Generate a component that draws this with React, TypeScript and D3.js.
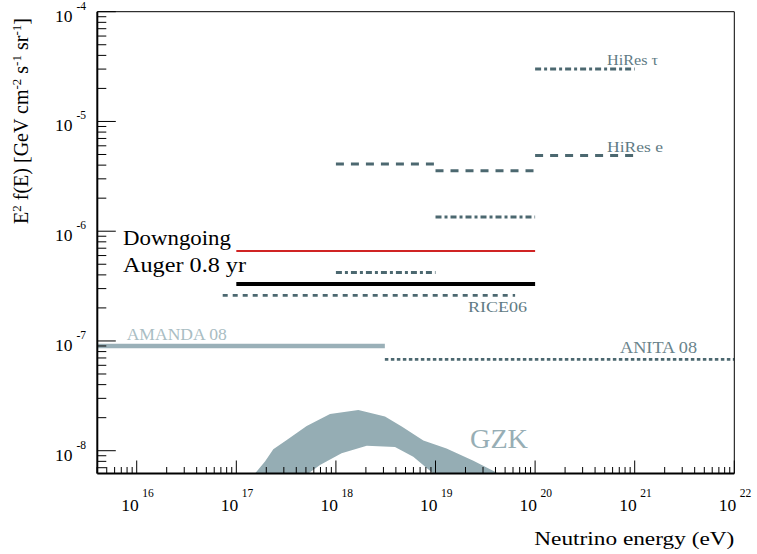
import React from "react";
import * as d3 from "d3";

// ---- data ----
const xDecades = [16, 17, 18, 19, 20, 21, 22];
const yDecades = [-4, -5, -6, -7, -8];

const hiresEEdges = [1e18, 1e19, 1e20, 1e21];
const hiresEValues = [4.1e-6, 3.56e-6, 4.9e-6];
const hiresTauEdges = [1e18, 1e19, 1e20, 1e21];
const hiresTauValues = [4.2e-7, 1.35e-6, 3.0e-5];

const downgoingRange = [1e17, 1e20];
const downgoingValue = 6.6e-7;
const augerRange = [1e17, 1e20];
const augerValue = 3.3e-7;
const riceRange = [7.3e16, 6.3e19];
const riceValue = 2.6e-7;
const amandaRange = [1e15, 3.1e18];
const amandaValue = 9.0e-8;
const anitaRange = [3.1e18, 1e22];
const anitaValue = 6.8e-8;

const gzkUpperE = [1.54e17, 1.94e17, 2.35e17, 3.21e17, 5.09e17, 8.73e17, 1.68e18, 3.11e18, 4.58e18, 7.55e18, 1.29e19, 2.4e19, 4.28e19];
const gzkUpperF = [6.2e-9, 7.96e-9, 1.03e-8, 1.25e-8, 1.68e-8, 2.16e-8, 2.35e-8, 2.05e-8, 1.66e-8, 1.24e-8, 1.05e-8, 8.1e-9, 6.2e-9];
const gzkLowerE = [5.28e17, 6.92e17, 1.14e18, 2.04e18, 3.92e18, 5.98e18, 9.5e18];
const gzkLowerF = [6.2e-9, 7.4e-9, 9.5e-9, 1.11e-8, 1.08e-8, 8.8e-9, 6.2e-9];

// ---- layout ----
const W = 757;
const H = 554;
const L = 97.3;
const R = 734.3;
const T = 11.7;
const B = 473.5;
const FONT = "'Liberation Serif', 'Times New Roman', serif";

const SLATE = "#4c6870";
const LABEL = "#5f7b84";
const LIGHT = "#9ab0b8";

export default function App() {
  const x = d3.scaleLog().domain([4.02e15, 1e22]).range([L, R]);
  const y = d3.scaleLog().domain([6.2e-9, 1e-4]).range([B, T]);
  const line = d3
    .line<[number, number]>()
    .x((d) => x(d[0]))
    .y((d) => y(d[1]));

  const seg = (r: number[], v: number): [number, number][] => [
    [r[0], v],
    [r[1], v],
  ];

  const xTicks: { v: number; major: boolean }[] = [];
  for (let e = 15; e <= 22; e++) {
    for (let k = 1; k <= 9; k++) {
      const v = k * Math.pow(10, e);
      if (v >= 4.0e15 && v <= 1.0001e22) xTicks.push({ v, major: k === 1 });
    }
  }
  const yTicks: { v: number; major: boolean }[] = [];
  for (let e = -9; e <= -4; e++) {
    for (let k = 1; k <= 9; k++) {
      const v = k * Math.pow(10, e);
      if (v >= 6.25e-9 && v <= 1.0001e-4) yTicks.push({ v, major: k === 1 });
    }
  }

  const gzkPts: [number, number][] = [
    ...gzkUpperE.map((e, i) => [e, gzkUpperF[i]] as [number, number]),
    ...gzkLowerE.map((e, i) => [e, gzkLowerF[i]] as [number, number]).reverse(),
  ];

  const stepSegs = (edges: number[], vals: number[]) =>
    vals.map((v, i) => line(seg([edges[i], edges[i + 1]], v)) as string);

  return (
    <svg
      width={W}
      height={H}
      style={{ position: "absolute", left: 0, top: 0, background: "#fff" }}
      fontFamily={FONT}
    >
      <defs>
        <clipPath id="plot">
          <rect x={L} y={T} width={R - L} height={B - T} />
        </clipPath>
      </defs>
      <rect x={0} y={0} width={W} height={H} fill="#fff" />

      <g clipPath="url(#plot)">
        <path d={(line(gzkPts) as string) + "Z"} fill="#95adb4" stroke="none" />
        <path d={line(seg(amandaRange, amandaValue)) as string} stroke={LIGHT} strokeWidth={4.5} fill="none" />
        <path d={line(seg(anitaRange, anitaValue)) as string} stroke={SLATE} strokeWidth={2.8} strokeDasharray="3.5 2.5" fill="none" />
        <path d={line(seg(riceRange, riceValue)) as string} stroke={SLATE} strokeWidth={2.8} strokeDasharray="5 5" fill="none" />
        {stepSegs(hiresEEdges, hiresEValues).map((d, i) => (
          <path key={"he" + i} d={d} stroke={SLATE} strokeWidth={3} strokeDasharray="8 7" fill="none" />
        ))}
        {stepSegs(hiresTauEdges, hiresTauValues).map((d, i) => (
          <path key={"ht" + i} d={d} stroke={SLATE} strokeWidth={3} strokeDasharray="6 3 3 3" fill="none" />
        ))}
        <path d={line(seg(downgoingRange, downgoingValue)) as string} stroke="#d02424" strokeWidth={2} fill="none" />
        <path d={line(seg(augerRange, augerValue)) as string} stroke="#000" strokeWidth={4} fill="none" />
      </g>

      {/* frame */}
      <line x1={L} y1={T} x2={R} y2={T} stroke="#000" strokeWidth={1} />
      <line x1={R} y1={T} x2={R} y2={B} stroke="#000" strokeWidth={1} />
      <line x1={L} y1={T} x2={L} y2={B} stroke="#000" strokeWidth={2} />
      <line x1={L} y1={B} x2={R} y2={B} stroke="#000" strokeWidth={2} />

      {xTicks.map((t, i) => (
        <line key={"xt" + i} x1={x(t.v)} x2={x(t.v)} y1={B} y2={B - (t.major ? 13 : 6.5)} stroke="#000" strokeWidth={1} />
      ))}
      {yTicks.map((t, i) => (
        <line key={"yt" + i} x1={L} x2={L + (t.major ? 18.5 : 9)} y1={y(t.v)} y2={y(t.v)} stroke="#000" strokeWidth={1} />
      ))}

      {xDecades.map((d) => (
        <text key={"xl" + d} x={x(Math.pow(10, d)) - 15.5} y={510.5} fontSize={17.5} fill="#000">
          10
          <tspan dx={3.5} dy={-13.5} fontSize={11.5}>
            {d}
          </tspan>
        </text>
      ))}
      {yDecades.map((d) => (
        <text key={"yl" + d} x={55} y={y(Math.pow(10, d)) + 10} fontSize={17.5} fill="#000">
          10
          <tspan dx={4} dy={-12} fontSize={11.5}>
            {"-" + -d}
          </tspan>
        </text>
      ))}

      <text x={R} y={545} textAnchor="end" fontSize={19.5} fill="#000" textLength={200} lengthAdjust="spacingAndGlyphs">
        Neutrino energy (eV)
      </text>
      <text transform={`translate(28,121) rotate(-90)`} textAnchor="middle" fontSize={20} fill="#000">
        E<tspan dy={-7} fontSize={13}>2</tspan>
        <tspan dy={7}> f(E) [GeV cm</tspan>
        <tspan dy={-7} fontSize={13}>-2</tspan>
        <tspan dy={7}> s</tspan>
        <tspan dy={-7} fontSize={13}>-1</tspan>
        <tspan dy={7}> sr</tspan>
        <tspan dy={-7} fontSize={13}>-1</tspan>
        <tspan dy={7}>]</tspan>
      </text>

      <text x={607} y={65} fontSize={15} fill={LABEL} textLength={51} lengthAdjust="spacingAndGlyphs">HiRes τ</text>
      <text x={607} y={151.5} fontSize={15} fill={LABEL} textLength={56} lengthAdjust="spacingAndGlyphs">HiRes e</text>
      <text x={468} y={311.5} fontSize={15.5} fill={LABEL} textLength={59} lengthAdjust="spacingAndGlyphs">RICE06</text>
      <text x={126.7} y={340} fontSize={17} fill="#a9bdc3" textLength={100} lengthAdjust="spacingAndGlyphs">AMANDA 08</text>
      <text x={620} y={353.3} fontSize={16} fill="#6a848c" textLength={77} lengthAdjust="spacingAndGlyphs">ANITA 08</text>
      <text x={470} y={448.3} fontSize={27} fill="#97aeb5" textLength={58} lengthAdjust="spacingAndGlyphs">GZK</text>
      <text x={123} y={245} fontSize={20} fill="#000" textLength={108} lengthAdjust="spacingAndGlyphs">Downgoing</text>
      <text x={123} y={271.7} fontSize={20} fill="#000" textLength={123} lengthAdjust="spacingAndGlyphs">Auger 0.8 yr</text>
    </svg>
  );
}
